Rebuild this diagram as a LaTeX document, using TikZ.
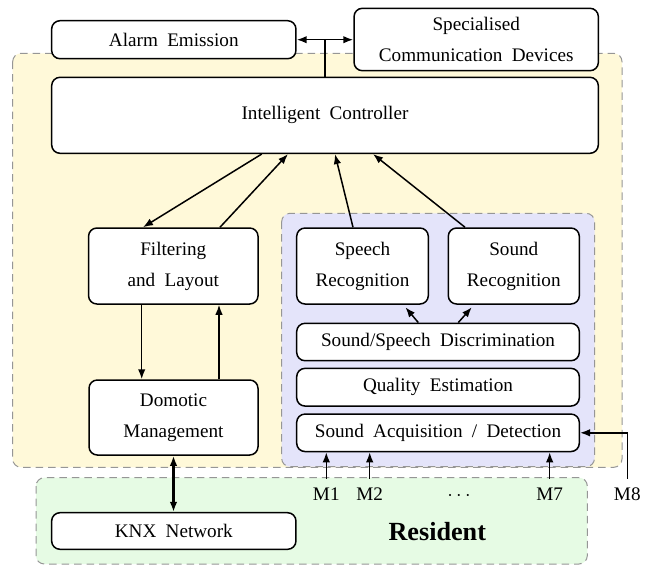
\documentclass[tikz,border=0pt]{standalone}
\usepackage{fontspec}
\setmainfont{Liberation Serif}
\usetikzlibrary{arrows.meta}
\newcommand{\widespaces}{\spaceskip=5.6pt plus 1pt minus 1pt\relax}
\definecolor{yellowbg}{RGB}{255,249,217}
\definecolor{bluebg}{RGB}{228,228,250}
\definecolor{greenbg}{RGB}{230,251,228}
\definecolor{regionline}{RGB}{150,150,150}
\begin{document}
\begin{tikzpicture}[x=0.6pt,y=-0.6pt,
  every node/.style={font=\fontsize{11.5}{18.6}\selectfont\widespaces},
  box/.style={draw=black,line width=0.9pt,rounded corners=5pt,fill=white,align=center,inner sep=2pt},
  sz/.style 2 args={minimum width=#1*0.6pt,minimum height=#2*0.6pt},
  region/.style={draw=regionline,line width=0.6pt,dash pattern=on 4.5pt off 3pt,rounded corners=5pt},
  arr/.style={line width=0.9pt,-{Latex[length=6pt,width=4.5pt]}},
  darr/.style={line width=0.9pt,{Latex[length=6pt,width=4.5pt]}-{Latex[length=6pt,width=4.5pt]}},
  mlabel/.style={anchor=base,inner sep=2pt,outer sep=3.5pt}]
\useasboundingbox (0,0) rectangle (649,565);
% regions
\draw[region,fill=yellowbg] (12.7,53.3) rectangle (622,467.3);
\draw[region,fill=bluebg] (281.7,213.3) rectangle (594.5,466.7);
\draw[region,fill=greenbg] (36,477.7) rectangle (587.3,564);
% nodes
\node[box,sz={244.3}{38}] (alarm) at (173.8,39.7) {Alarm Emission};
\node[box,sz={244.3}{62.4}] (spec) at (476.2,39.5) {Specialised\\Communication Devices};
\node[box,sz={546.6}{76}] (ic) at (325,115.3) {Intelligent Controller};
\node[box,sz={169.5}{76}] (filt) at (173.3,266) {Filtering\\and Layout};
\node[box,sz={169}{75}] (dom) at (173.5,417.5) {Domotic\\Management};
\node[box,sz={131.6}{76}] (speech) at (362.5,266) {Speech\\Recognition};
\node[box,sz={131}{76}] (sndrec) at (513.8,266) {Sound\\Recognition};
\node[box,sz={282.6}{37.4}] (disc) at (438,342) {Sound/Speech Discrimination};
\node[box,sz={282.6}{37.7}] (qual) at (438,387.2) {Quality Estimation};
\node[box,sz={282.6}{37.5}] (acq) at (438,432.8) {Sound Acquisition / Detection};
\node[box,sz={244.3}{36.6}] (knx) at (173.8,531) {KNX Network};
\node[font=\fontsize{15.7}{18}\selectfont\bfseries] (res) at (437.3,531.7) {Resident};
% microphone labels
\node[mlabel] (m1) at (326.3,500.5) {M1};
\node[mlabel] (m2) at (369.7,500.5) {M2};
\node[mlabel] (dots) at (459,500.5) {$\cdots$};
\node[mlabel] (m7) at (549.7,500.5) {M7};
\node[mlabel] (m8) at (627.3,500.5) {M8};
% x positions of connectors
\coordinate (xa) at (261.7,0);
\coordinate (xb) at (143,0);
\coordinate (xc) at (220,0);
\coordinate (xd) at (288,0);
\coordinate (xe) at (353,0);
\coordinate (xf) at (335,0);
\coordinate (xg) at (465,0);
\coordinate (xh) at (373,0);
\coordinate (xi) at (141.7,0);
\coordinate (xj) at (219,0);
\coordinate (xk) at (418.3,0);
\coordinate (xl) at (403.3,0);
\coordinate (xm) at (458.3,0);
\coordinate (xn) at (474,0);
% connectors
\draw[line width=0.9pt] (ic.north) -- (ic.north |- alarm.east);
\draw[darr] (alarm.east) -- (spec.west |- alarm.east);
\draw[arr] (ic.south -| xa) -- (filt.north -| xb);
\draw[arr] (filt.north -| xc) -- (ic.south -| xd);
\draw[arr] (speech.north -| xe) -- (ic.south -| xf);
\draw[arr] (sndrec.north -| xg) -- (ic.south -| xh);
\draw[arr] (filt.south -| xi) -- (dom.north -| xi);
\draw[arr] (dom.north -| xj) -- (filt.south -| xj);
\draw[arr,shorten >=2pt] (disc.north -| xk) -- (speech.south -| xl);
\draw[arr,shorten >=2pt] (disc.north -| xm) -- (sndrec.south -| xn);
\draw[darr,line width=1.4pt] (dom.south) -- (dom.south |- knx.north);
\draw[arr] (m1.north) -- (acq.south -| m1.north);
\draw[arr] (m2.north) -- (acq.south -| m2.north);
\draw[arr] (m7.north) -- (acq.south -| m7.north);
\draw[arr] (m8.north) |- (acq.east);
\end{tikzpicture}
\end{document}
